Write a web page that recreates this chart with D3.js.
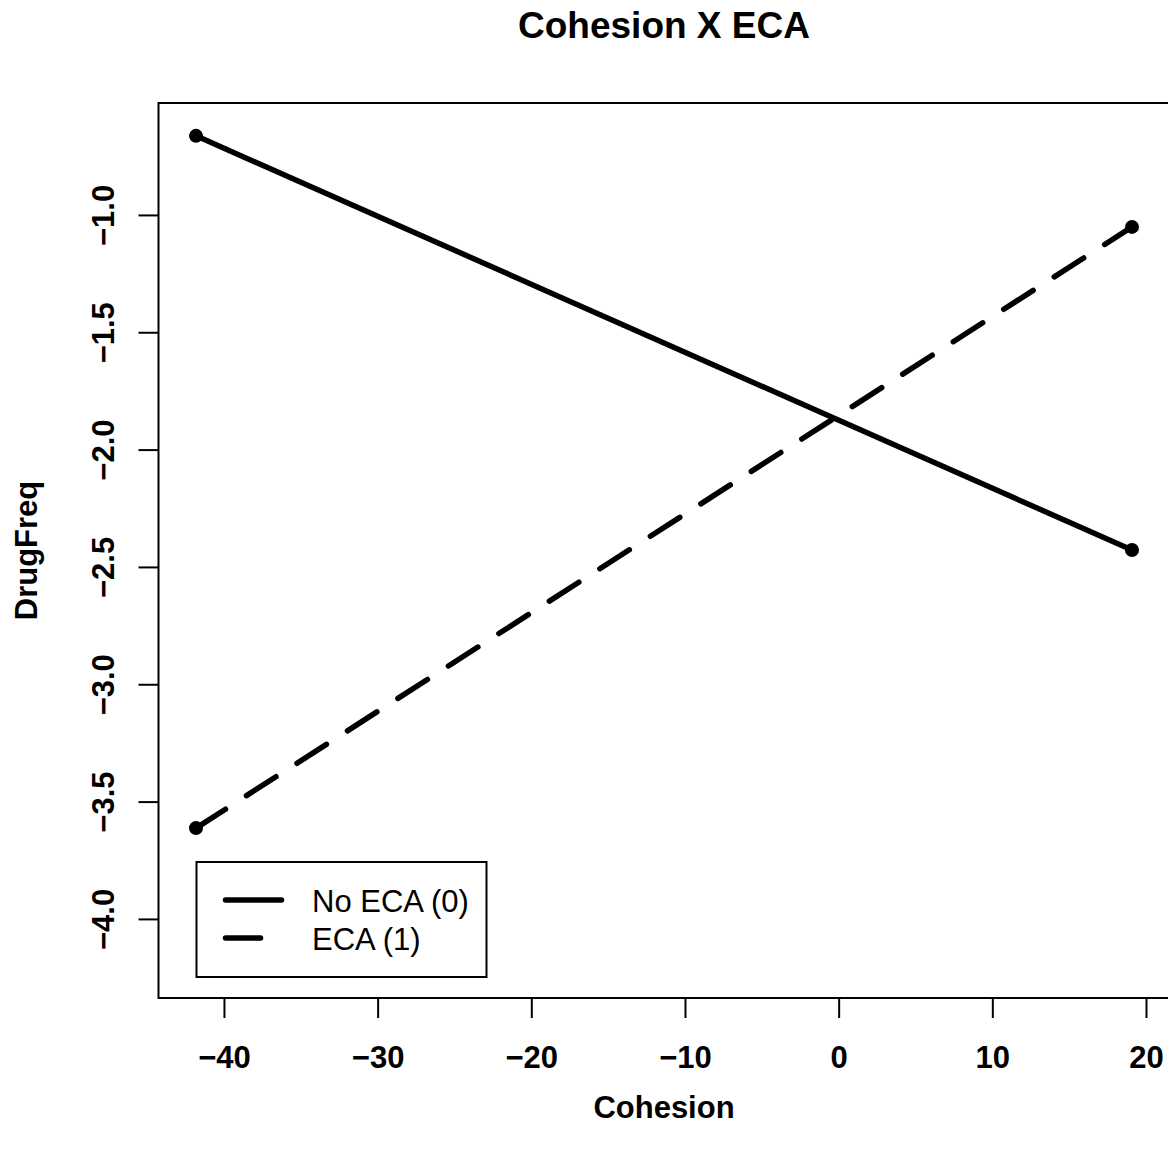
<!DOCTYPE html>
<html>
<head>
<meta charset="utf-8">
<script src="https://cdn.jsdelivr.net/npm/d3@7"></script>
<style>
  body { margin: 0; background: #fff; }
  svg text { font-family: "Liberation Sans", Arial, Helvetica, sans-serif; fill: #000; }
</style>
</head>
<body>
<div id="chart"></div>
<script>
// values
var cohesion = [-41.82, 19.09];
var noECA = [-0.663, -2.428];
var eca = [-3.613, -1.051];
var xTicks = [-40, -30, -20, -10, 0, 10, 20];
var yTicks = [-1.0, -1.5, -2.0, -2.5, -3.0, -3.5, -4.0];
var seriesNames = ["No ECA (0)", "ECA (1)"];

var width = 1168, height = 1152;
var plotLeft = 158.5, plotRight = 1169.5, plotTop = 103, plotBottom = 998;

var svg = d3.select("#chart").append("svg")
    .attr("width", width)
    .attr("height", height);

var x = d3.scaleLinear().domain([-44.26, 21.53]).range([plotLeft, plotRight]);
var y = d3.scaleLinear().domain([-4.337, -0.523]).range([plotBottom, plotTop]);

// title
svg.append("text")
    .attr("x", (plotLeft + plotRight) / 2)
    .attr("y", 38)
    .attr("text-anchor", "middle")
    .style("font-size", "37px")
    .style("font-weight", "bold")
    .text("Cohesion X ECA");

// x axis
var xAxis = svg.append("g")
    .attr("transform", "translate(0," + plotBottom + ")")
    .call(d3.axisBottom(x).tickValues(xTicks).tickSize(20).tickFormat(d3.format("d")));
xAxis.select(".domain").remove();
xAxis.selectAll("line").attr("stroke", "#000").attr("stroke-width", 2);
xAxis.selectAll("text")
    .attr("y", 70).attr("dy", 0)
    .style("font-size", "31px").style("font-weight", "bold");

// y axis
var yAxis = svg.append("g")
    .attr("transform", "translate(" + plotLeft + ",0)")
    .call(d3.axisLeft(y).tickValues(yTicks).tickSize(20).tickFormat(d3.format(".1f")));
yAxis.select(".domain").remove();
yAxis.selectAll("line").attr("stroke", "#000").attr("stroke-width", 2);
yAxis.selectAll("text")
    .attr("x", null).attr("dy", 0)
    .attr("text-anchor", "middle")
    .attr("transform", "translate(-45,0) rotate(-90)")
    .style("font-size", "31px").style("font-weight", "bold");

// axis titles
svg.append("text")
    .attr("x", (plotLeft + plotRight) / 2)
    .attr("y", 1118)
    .attr("text-anchor", "middle")
    .style("font-size", "31px").style("font-weight", "bold")
    .text("Cohesion");

svg.append("text")
    .attr("transform", "translate(37," + (plotTop + plotBottom) / 2 + ") rotate(-90)")
    .attr("text-anchor", "middle")
    .style("font-size", "31px").style("font-weight", "bold")
    .text("DrugFreq");

// plot box
svg.append("rect")
    .attr("x", plotLeft).attr("y", plotTop)
    .attr("width", plotRight - plotLeft).attr("height", plotBottom - plotTop)
    .attr("fill", "none").attr("stroke", "#000").attr("stroke-width", 2);

var line = d3.line()
    .x(function(d) { return x(d[0]); })
    .y(function(d) { return y(d[1]); });

var series = [
  { name: seriesNames[0], values: d3.zip(cohesion, noECA), dash: null },
  { name: seriesNames[1], values: d3.zip(cohesion, eca), dash: "35,25" }
];

series.forEach(function(s) {
  svg.append("path")
      .datum(s.values)
      .attr("d", line)
      .attr("fill", "none")
      .attr("stroke", "#000")
      .attr("stroke-width", 5.5)
      .attr("stroke-linecap", "round")
      .attr("stroke-dasharray", s.dash);

  svg.selectAll(null)
      .data(s.values)
      .enter().append("circle")
      .attr("cx", function(d) { return x(d[0]); })
      .attr("cy", function(d) { return y(d[1]); })
      .attr("r", 7)
      .attr("fill", "#000");
});

// legend
var legend = svg.append("g");
legend.append("rect")
    .attr("x", 196.5).attr("y", 862)
    .attr("width", 290).attr("height", 115)
    .attr("fill", "#fff").attr("stroke", "#000").attr("stroke-width", 2);

series.forEach(function(s, i) {
  var ly = 900 + i * 38;
  legend.append("line")
      .attr("x1", 225.5).attr("x2", 281.5)
      .attr("y1", ly).attr("y2", ly)
      .attr("stroke", "#000").attr("stroke-width", 5.5)
      .attr("stroke-linecap", "round")
      .attr("stroke-dasharray", s.dash);
  legend.append("text")
      .attr("x", 312).attr("y", ly + 12)
      .style("font-size", "31px")
      .text(s.name);
});
</script>
</body>
</html>
